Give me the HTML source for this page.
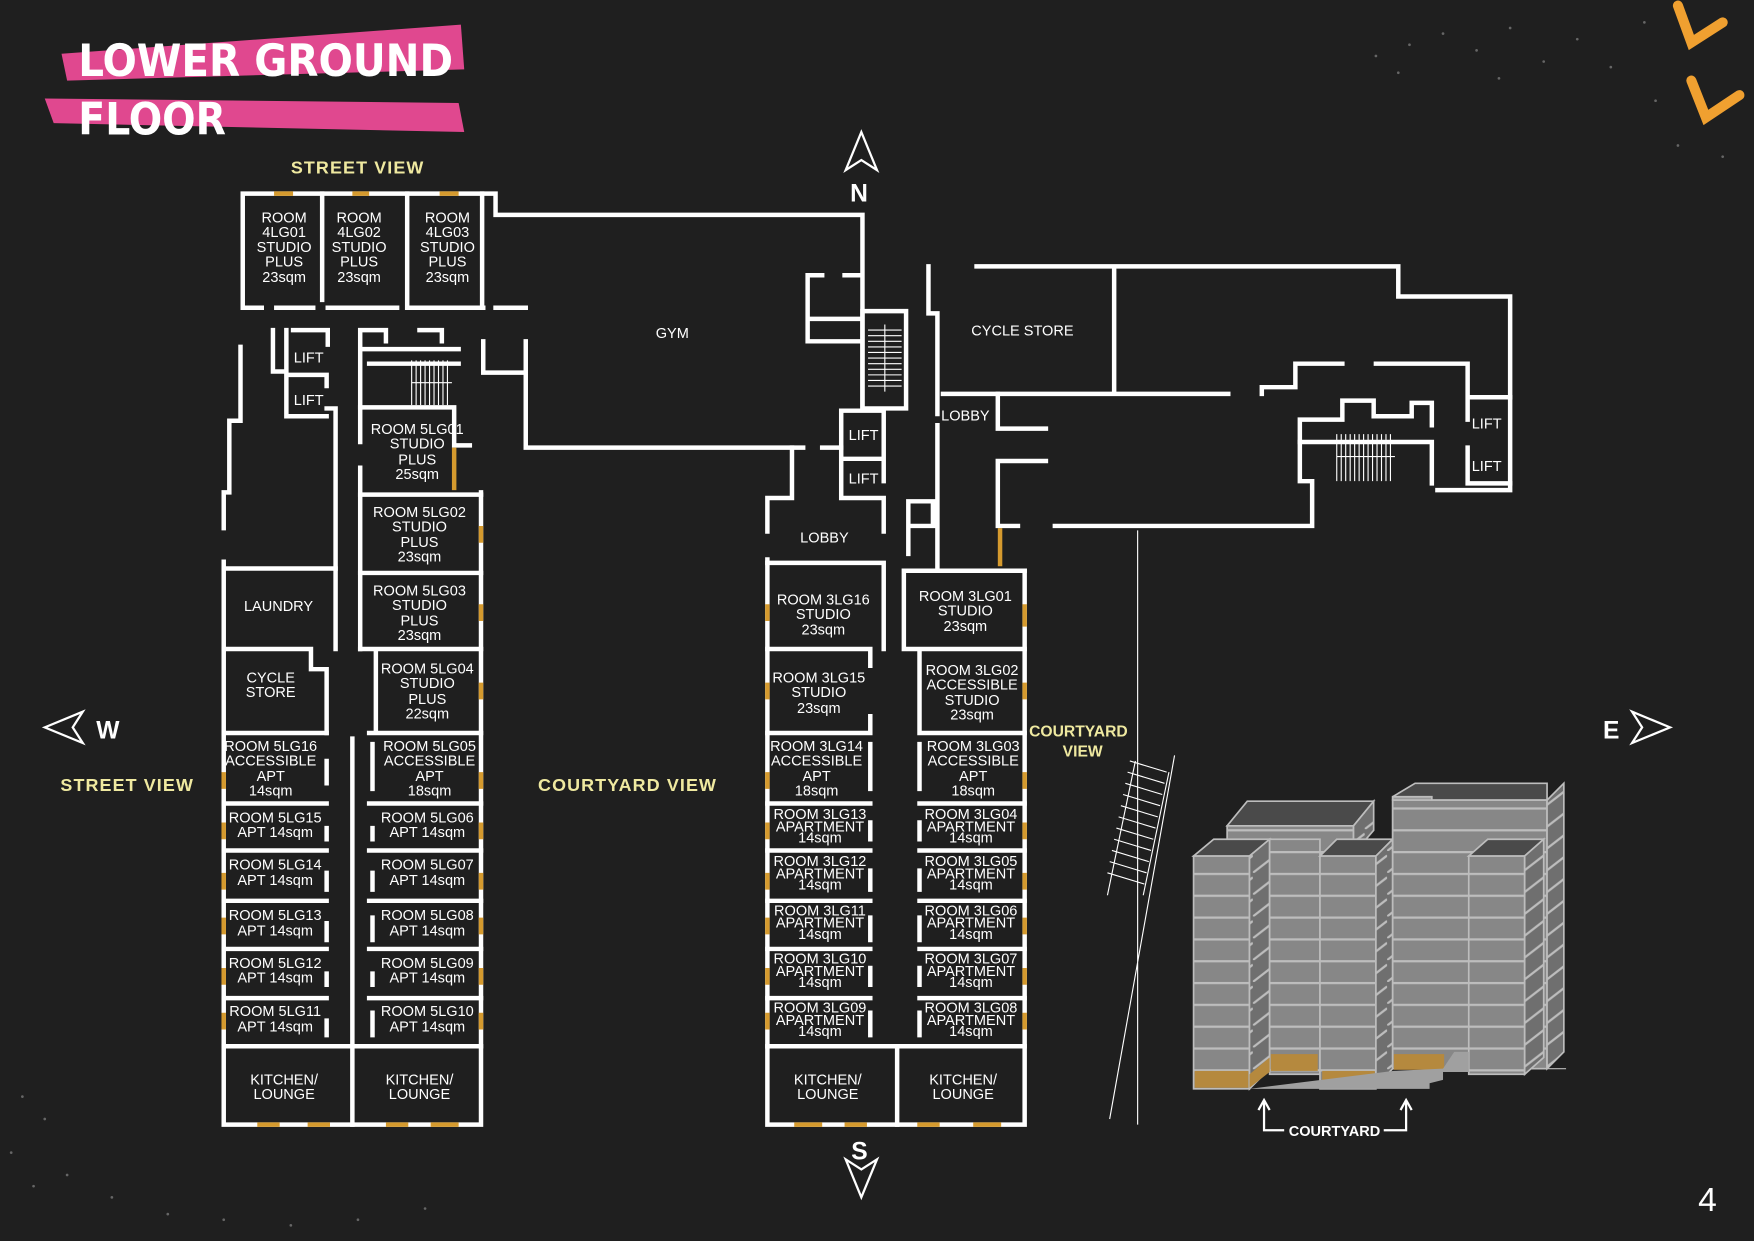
<!DOCTYPE html>
<html><head><meta charset="utf-8"><style>
html,body{margin:0;padding:0;background:#1f1f1f;}
svg{display:block}
text{font-family:"Liberation Sans",sans-serif;fill:#fff}
</style></head><body>
<svg width="1754" height="1241" viewBox="0 0 1568 1109" preserveAspectRatio="none" xmlns="http://www.w3.org/2000/svg">
<defs>
<pattern id="fl" width="20" height="19.5" patternUnits="userSpaceOnUse" y="0"><rect width="20" height="19.5" fill="#878787"/><rect width="20" height="2" fill="#bdbdbd"/></pattern>
<pattern id="fs" width="20" height="19.5" patternUnits="userSpaceOnUse"><rect width="20" height="19.5" fill="#6f6f6f"/><path d="M0 19.5 L20 4" stroke="#bdbdbd" stroke-width="2"/></pattern>
</defs>
<rect width="1568" height="1109" fill="#1f1f1f"/>
<!-- title -->
<path d="M55 48 L412 22 L415 62 L60 72 Z" fill="#e0488f"/>
<path d="M40 88 L410 92 L415 118 L48 110 Z" fill="#e0488f"/>
<text x="70" y="68" font-size="40" font-weight="bold" textLength="335" lengthAdjust="spacingAndGlyphs" style="font-family:'DejaVu Sans Condensed','Liberation Sans',sans-serif">LOWER GROUND</text>
<text x="70" y="120" font-size="40" font-weight="bold" textLength="132" lengthAdjust="spacingAndGlyphs" style="font-family:'DejaVu Sans Condensed','Liberation Sans',sans-serif">FLOOR</text>
<!-- orange decor -->
<path d="M1500 5 L1512 38 L1540 20" stroke="#f0a030" stroke-width="9" fill="none" stroke-linecap="round"/>
<path d="M1512 72 L1525 105 L1555 85" stroke="#f0a030" stroke-width="9" fill="none" stroke-linecap="round"/>
<g fill="#666">
<circle cx="1230" cy="50" r="1.2"/><circle cx="1260" cy="40" r="1.2"/><circle cx="1290" cy="30" r="1.2"/><circle cx="1320" cy="45" r="1.2"/><circle cx="1350" cy="25" r="1.2"/><circle cx="1380" cy="55" r="1.2"/><circle cx="1410" cy="35" r="1.2"/><circle cx="1440" cy="60" r="1.2"/><circle cx="1470" cy="20" r="1.2"/><circle cx="1480" cy="90" r="1.2"/><circle cx="1500" cy="130" r="1.2"/><circle cx="1540" cy="140" r="1.2"/><circle cx="1250" cy="65" r="1.2"/><circle cx="1340" cy="70" r="1.2"/>
<circle cx="20" cy="980" r="1.2"/><circle cx="40" cy="1000" r="1.2"/><circle cx="10" cy="1030" r="1.2"/><circle cx="60" cy="1050" r="1.2"/><circle cx="100" cy="1070" r="1.2"/><circle cx="150" cy="1085" r="1.2"/><circle cx="200" cy="1090" r="1.2"/><circle cx="260" cy="1095" r="1.2"/><circle cx="320" cy="1090" r="1.2"/><circle cx="380" cy="1080" r="1.2"/><circle cx="30" cy="1060" r="1.2"/>
</g>
<!-- labels -->
<g font-weight="bold">
<text x="260" y="155" font-size="16" style="fill:#efe9a0;letter-spacing:1px">STREET VIEW</text>
<text x="54" y="707" font-size="16" style="fill:#efe9a0;letter-spacing:1px">STREET VIEW</text>
<text x="481" y="707" font-size="16" style="fill:#efe9a0;letter-spacing:1px">COURTYARD VIEW</text>
<text x="920" y="658" font-size="14" style="fill:#efe9a0">COURTYARD</text>
<text x="950" y="676" font-size="14" style="fill:#efe9a0">VIEW</text>
</g>
<!-- compass -->
<g fill="none" stroke="#fff" stroke-width="2">
<path d="M770 118 L756 152 L770 143 L784 152 Z"/>
<path d="M770 1070 L756 1036 L770 1045 L784 1036 Z"/>
<path d="M40 650 L74 636 L65 650 L74 664 Z"/>
<path d="M1493 650 L1459 636 L1468 650 L1459 664 Z"/>
</g>
<text x="760" y="180" font-size="22" font-weight="bold">N</text>
<text x="761" y="1036" font-size="22" font-weight="bold">S</text>
<text x="86" y="660" font-size="22" font-weight="bold">W</text>
<text x="1433" y="660" font-size="22" font-weight="bold">E</text>
<text x="1518" y="1082" font-size="30">4</text>
<!-- walls -->
<g fill="none" stroke="#fff" stroke-width="4" stroke-linecap="square">
<path d="M217 275 V173 H443 V192 H771 V365"/>
<path d="M217 275 H234 M247 275 H280 M293 275 H355 M366 275 H432 M443 275 H470"/>
<path d="M288 173 V268 M364 173 V275 M431 173 V275"/>
<path d="M215 310 V376 H205 V440 H200 V472"/>
<path d="M200 502 V1005 H430 V440"/>
<path d="M244 295 V332 H256 M262 295 H293 V308 M256 295 V372 H292 M256 335 H292 V345 M292 365 H300 V580"/>
<path d="M200 508 H300 M200 580 H278 V598 H292 V655"/>
<path d="M200 655 H292 M200 718 H292 M200 760 H292 M200 805 H292 M200 848 H292 M200 892 H292 M200 935 H430"/>
<path d="M292 680 V700 M292 740 V750 M292 780 V795 M292 825 V840 M292 870 V880 M292 912 V925"/>
<path d="M315 660 V1005"/>
<path d="M322 295 V395 M322 418 V580 M322 295 H345 V305 M375 295 H395 V305 M322 312 H410 M330 325 H410"/>
<path d="M322 364 H406 V398 H420"/>
<path d="M322 442 H430 M322 512 H430 M322 580 H430 M336 580 V655 M330 655 H430 M330 718 H430 M330 760 H430 M330 805 H430 M330 848 H430 M330 892 H430"/>
<path d="M333 665 V705 M333 740 V750 M333 780 V795 M333 820 V840 M333 870 V880 M333 905 V925"/>
<path d="M432 305 V333 H470 V305 M470 333 V400 H718 M470 305 V333"/>
<path d="M722 246 V305 H770 M722 246 H735 M755 246 H770 M722 285 H770 M722 305 H735 M755 305 H770"/>
<path d="M771 278 H810 V365 H771 M771 278 V365"/>
<path d="M708 400 V445 H686 V475 M686 500 V1005 H916 V510"/>
<path d="M752 367 H790 V408 M752 367 V445 H790 M752 410 H790 V430 M790 445 V475"/>
<path d="M735 400 H752"/>
<path d="M686 503 H790 M790 503 V580 M686 580 H778 V595 M778 640 V655 M686 655 H778 M686 718 H778 M686 760 H778 M686 805 H778 M686 848 H778 M686 892 H778 M686 935 H916"/>
<path d="M778 665 V705 M778 735 V750 M778 778 V795 M778 820 V840 M778 865 V880 M778 905 V925"/>
<path d="M802 935 V1005 M808 510 H916 M808 510 V580 M808 580 H916 M822 580 V655 M822 655 H916 M822 718 H916 M822 760 H916 M822 805 H916 M822 848 H916 M822 892 H916"/>
<path d="M822 665 V705 M822 735 V750 M822 778 V795 M822 820 V840 M822 865 V880 M822 905 V925"/>
<path d="M838 380 V510 M812 448 H834 V470 M812 448 V495 M812 470 H834"/>
<path d="M830 238 V280 H838 V370 M873 238 H1250 V265 H1350 V438 H1285 M996 238 V352 M843 352 H1098"/>
<path d="M892 352 V383 H935 M892 412 H935 M892 412 V470 H910 M943 470 H1173 V430 H1162 V375 H1200 V358 H1228 V372 H1262 V360 H1280 V380"/>
<path d="M1128 352 V346 H1158 V325 H1200 M1230 325 H1312 V355 H1350 M1312 355 V375 M1312 400 V432 H1350"/>
<path d="M1162 395 H1280 V432"/>
</g>
<g stroke="#fff" stroke-width="1">
<path d="M368 322 V362 M372 322 V362 M376 322 V362 M380 322 V362 M384 322 V362 M388 322 V362 M392 322 V362 M396 322 V362 M400 322 V362 M368 342 H404"/>
<path d="M776 295 H806 M776 300 H806 M776 305 H806 M776 310 H806 M776 315 H806 M776 320 H806 M776 325 H806 M776 330 H806 M776 335 H806 M776 340 H806 M776 345 H806 M791 290 V350"/>
<path d="M1195 388 V430 M1199 388 V430 M1203 388 V430 M1207 388 V430 M1211 388 V430 M1215 388 V430 M1219 388 V430 M1223 388 V430 M1227 388 V430 M1231 388 V430 M1235 388 V430 M1239 388 V430 M1243 388 V430 M1195 408 H1247"/>
<path d="M1017 474 V1005 M1050 675 L992 1000"/>
<path d="M1010 680 L1043 690 M1008 690 L1041 700 M1006 700 L1039 710 M1004 710 L1037 720 M1002 720 L1035 730 M1000 730 L1033 740 M998 740 L1031 750 M996 750 L1029 760 M994 760 L1027 770 M992 770 L1025 780 M990 780 L1023 790"/>
<path d="M1015 680 L990 800 M1045 690 L1022 800"/>
</g>
<g stroke="#d59a2e" stroke-width="4">
<path d="M245 173 H262 M315 173 H330 M393 173 H410 M406 400 V438 M430 470 V485 M430 540 V555 M430 610 V625 M430 690 V705 M430 735 V750 M430 780 V795 M430 820 V835 M430 865 V880 M430 905 V920"/>
<path d="M200 690 V705 M200 735 V750 M200 780 V795 M200 820 V835 M200 865 V880 M200 905 V920 M230 1005 H250 M275 1005 H295 M345 1005 H365 M385 1005 H410"/>
<path d="M686 540 V555 M686 610 V625 M686 690 V705 M686 735 V750 M686 780 V795 M686 820 V835 M686 865 V880 M686 905 V920 M710 1005 H735 M755 1005 H775 M820 1005 H840 M870 1005 H895"/>
<path d="M916 540 V560 M916 610 V625 M916 690 V705 M916 735 V750 M916 780 V795 M916 820 V835 M916 865 V880 M916 905 V920 M894 472 V506"/>
</g>
<g font-size="13" text-anchor="middle">
<text x="254" y="199">ROOM</text><text x="254" y="212">4LG01</text><text x="254" y="225">STUDIO</text><text x="254" y="238">PLUS</text><text x="254" y="252">23sqm</text>
<text x="321" y="199">ROOM</text><text x="321" y="212">4LG02</text><text x="321" y="225">STUDIO</text><text x="321" y="238">PLUS</text><text x="321" y="252">23sqm</text>
<text x="400" y="199">ROOM</text><text x="400" y="212">4LG03</text><text x="400" y="225">STUDIO</text><text x="400" y="238">PLUS</text><text x="400" y="252">23sqm</text>
<text x="601" y="302">GYM</text>
<text x="276" y="324">LIFT</text><text x="276" y="362">LIFT</text>
<text x="373" y="388">ROOM 5LG01</text><text x="373" y="401">STUDIO</text><text x="373" y="415">PLUS</text><text x="373" y="428">25sqm</text>
<text x="375" y="462">ROOM 5LG02</text><text x="375" y="475">STUDIO</text><text x="375" y="489">PLUS</text><text x="375" y="502">23sqm</text>
<text x="375" y="532">ROOM 5LG03</text><text x="375" y="545">STUDIO</text><text x="375" y="559">PLUS</text><text x="375" y="572">23sqm</text>
<text x="382" y="602">ROOM 5LG04</text><text x="382" y="615">STUDIO</text><text x="382" y="629">PLUS</text><text x="382" y="642">22sqm</text>
<text x="249" y="546">LAUNDRY</text>
<text x="242" y="610">CYCLE</text><text x="242" y="623">STORE</text>
<text x="242" y="671">ROOM 5LG16</text><text x="242" y="684">ACCESSIBLE</text><text x="242" y="698">APT</text><text x="242" y="711">14sqm</text>
<text x="384" y="671">ROOM 5LG05</text><text x="384" y="684">ACCESSIBLE</text><text x="384" y="698">APT</text><text x="384" y="711">18sqm</text>
<text x="246" y="735">ROOM 5LG15</text><text x="246" y="748">APT 14sqm</text>
<text x="246" y="777">ROOM 5LG14</text><text x="246" y="791">APT 14sqm</text>
<text x="246" y="822">ROOM 5LG13</text><text x="246" y="836">APT 14sqm</text>
<text x="246" y="865">ROOM 5LG12</text><text x="246" y="878">APT 14sqm</text>
<text x="246" y="908">ROOM 5LG11</text><text x="246" y="922">APT 14sqm</text>
<text x="382" y="735">ROOM 5LG06</text><text x="382" y="748">APT 14sqm</text>
<text x="382" y="777">ROOM 5LG07</text><text x="382" y="791">APT 14sqm</text>
<text x="382" y="822">ROOM 5LG08</text><text x="382" y="836">APT 14sqm</text>
<text x="382" y="865">ROOM 5LG09</text><text x="382" y="878">APT 14sqm</text>
<text x="382" y="908">ROOM 5LG10</text><text x="382" y="922">APT 14sqm</text>
<text x="254" y="969">KITCHEN/</text><text x="254" y="982">LOUNGE</text>
<text x="375" y="969">KITCHEN/</text><text x="375" y="982">LOUNGE</text>
<text x="740" y="969">KITCHEN/</text><text x="740" y="982">LOUNGE</text>
<text x="861" y="969">KITCHEN/</text><text x="861" y="982">LOUNGE</text>
<text x="772" y="393">LIFT</text><text x="772" y="432">LIFT</text>
<text x="737" y="485">LOBBY</text>
<text x="863" y="376">LOBBY</text>
<text x="914" y="300">CYCLE STORE</text>
<text x="1329" y="383">LIFT</text><text x="1329" y="421">LIFT</text>
<text x="736" y="540">ROOM 3LG16</text><text x="736" y="553">STUDIO</text><text x="736" y="567">23sqm</text>
<text x="863" y="537">ROOM 3LG01</text><text x="863" y="550">STUDIO</text><text x="863" y="564">23sqm</text>
<text x="732" y="610">ROOM 3LG15</text><text x="732" y="623">STUDIO</text><text x="732" y="637">23sqm</text>
<text x="869" y="603">ROOM 3LG02</text><text x="869" y="616">ACCESSIBLE</text><text x="869" y="630">STUDIO</text><text x="869" y="643">23sqm</text>
<text x="730" y="671">ROOM 3LG14</text><text x="730" y="684">ACCESSIBLE</text><text x="730" y="698">APT</text><text x="730" y="711">18sqm</text>
<text x="870" y="671">ROOM 3LG03</text><text x="870" y="684">ACCESSIBLE</text><text x="870" y="698">APT</text><text x="870" y="711">18sqm</text>
</g>
<g font-size="13" text-anchor="middle">
<text x="733" y="732">ROOM 3LG13</text><text x="733" y="743">APARTMENT</text><text x="733" y="753">14sqm</text>
<text x="733" y="774">ROOM 3LG12</text><text x="733" y="785">APARTMENT</text><text x="733" y="795">14sqm</text>
<text x="733" y="818">ROOM 3LG11</text><text x="733" y="829">APARTMENT</text><text x="733" y="839">14sqm</text>
<text x="733" y="861">ROOM 3LG10</text><text x="733" y="872">APARTMENT</text><text x="733" y="882">14sqm</text>
<text x="733" y="905">ROOM 3LG09</text><text x="733" y="916">APARTMENT</text><text x="733" y="926">14sqm</text>
<text x="868" y="732">ROOM 3LG04</text><text x="868" y="743">APARTMENT</text><text x="868" y="753">14sqm</text>
<text x="868" y="774">ROOM 3LG05</text><text x="868" y="785">APARTMENT</text><text x="868" y="795">14sqm</text>
<text x="868" y="818">ROOM 3LG06</text><text x="868" y="829">APARTMENT</text><text x="868" y="839">14sqm</text>
<text x="868" y="861">ROOM 3LG07</text><text x="868" y="872">APARTMENT</text><text x="868" y="882">14sqm</text>
<text x="868" y="905">ROOM 3LG08</text><text x="868" y="916">APARTMENT</text><text x="868" y="926">14sqm</text>
</g>
<g stroke="#bdbdbd" stroke-width="1.5">
<polygon points="1097,738 1210,738 1228,716 1115,716" fill="#4a4a4a"/>
<rect x="1097" y="738" width="113" height="25" fill="url(#fl)"/>
<polygon points="1210,738 1228,716 1228,742 1210,763" fill="url(#fs)"/>
<polygon points="1067,765 1117,765 1135,750 1085,750" fill="#4a4a4a"/>
<rect x="1067" y="765" width="50" height="208" fill="url(#fl)"/>
<polygon points="1117,765 1135,750 1135,955 1117,973" fill="url(#fs)"/>
<rect x="1135" y="750" width="45" height="210" fill="url(#fl)"/>
<polygon points="1180,765 1230,765 1245,750 1195,750" fill="#4a4a4a"/>
<rect x="1180" y="765" width="50" height="208" fill="url(#fl)"/>
<polygon points="1230,765 1245,750 1245,955 1230,970" fill="url(#fs)"/>
<polygon points="1245,712 1265,700 1383,700 1383,715 1245,715" fill="#4a4a4a"/>
<polygon points="1245,712 1280,712 1280,760 1245,760" fill="#9a9a9a"/>
<rect x="1245" y="715" width="138" height="240" fill="url(#fl)"/>
<polygon points="1383,715 1398,700 1398,940 1383,955" fill="url(#fs)"/>
<polygon points="1313,765 1363,765 1380,750 1330,750" fill="#4a4a4a"/>
<rect x="1313" y="765" width="50" height="195" fill="url(#fl)"/>
<polygon points="1363,765 1380,750 1380,945 1363,960" fill="url(#fs)"/>
</g>
<g fill="#b5893e">
<rect x="1068" y="957" width="48" height="15"/><rect x="1136" y="942" width="42" height="15"/><rect x="1182" y="957" width="47" height="15"/><rect x="1246" y="942" width="45" height="14"/>
<polygon points="1117,972 1135,958 1135,945 1117,960"/>
</g>
<polygon points="1117,973 1278,973 1278,968 1290,965 1290,958 1313,958 1313,940 1300,940 1290,955 1246,957" fill="#a0a0a0"/>
<path d="M1383 955 L1400 955" stroke="#bbb" stroke-width="1"/>
<g stroke="#fff" stroke-width="2" fill="none">
<path d="M1130 985 V1010 H1148 M1237 1010 H1257 V985"/>
<path d="M1125 992 L1130 983 L1135 992 M1252 992 L1257 983 L1262 992"/>
</g>
<text x="1193" y="1015" font-size="13" font-weight="bold" text-anchor="middle">COURTYARD</text>
</svg>
</body></html>
